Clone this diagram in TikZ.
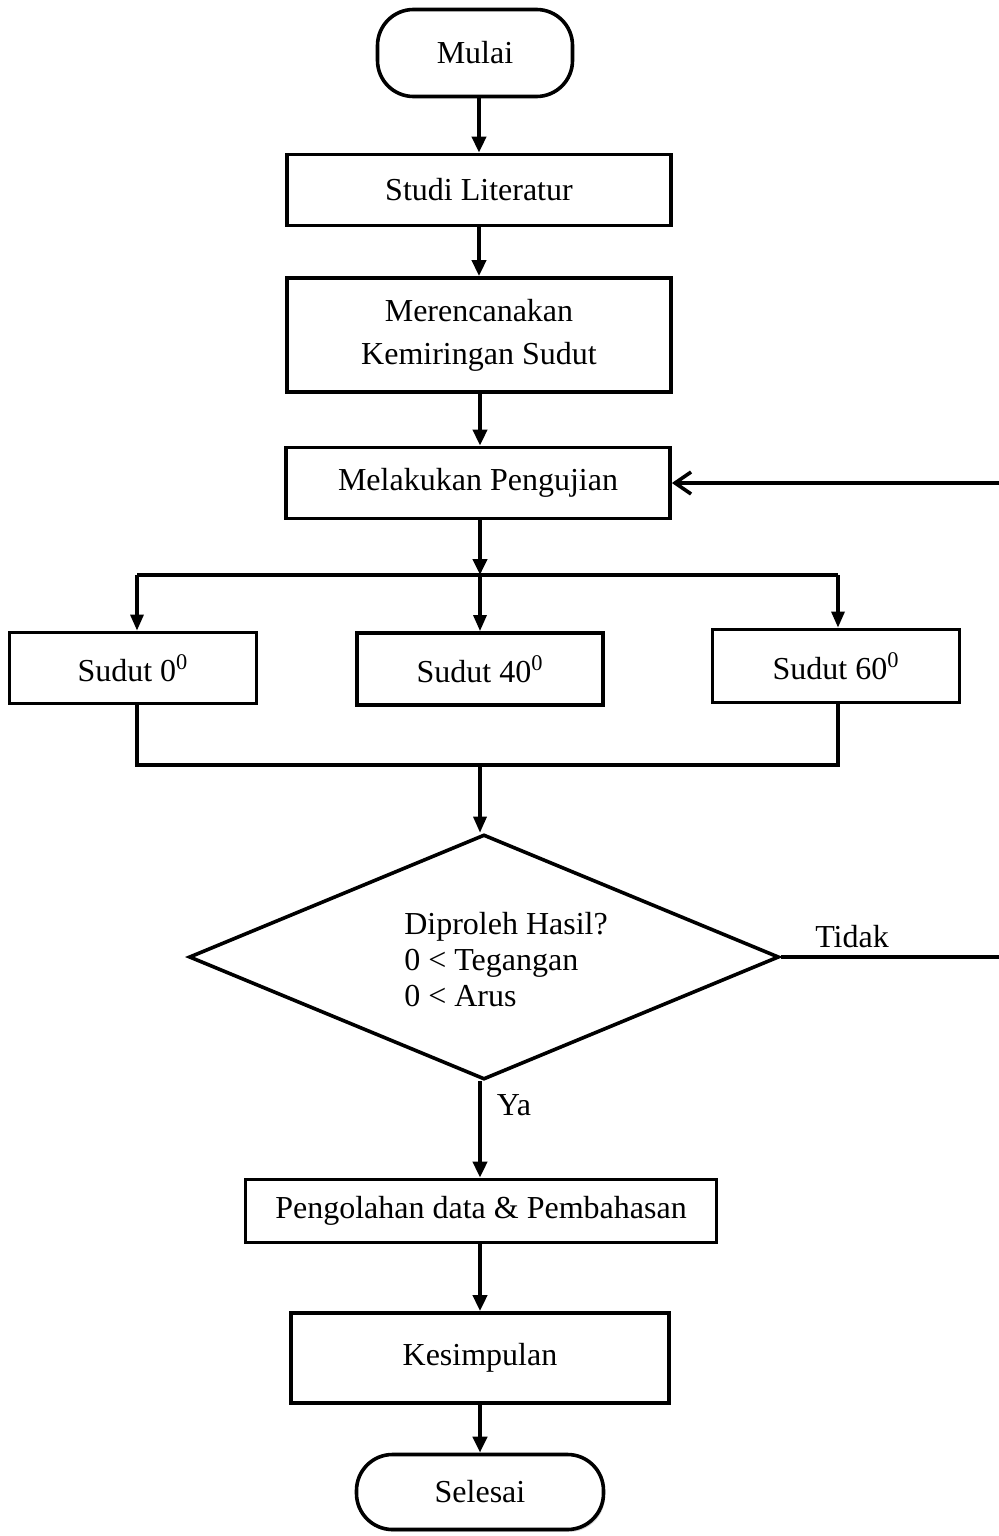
\documentclass[tikz,border=0pt]{standalone}
\usepackage{fontspec}
\setmainfont{Liberation Serif}
\usetikzlibrary{arrows.meta,shapes.geometric,shadows}
\begin{document}
\begin{tikzpicture}[x=0.5pt, y=-0.5pt, font=\fontsize{16}{19}\selectfont,
		kotak/.style={draw, line width=1.9pt, inner sep=0pt},
		ujung/.style={draw, line width=1.8pt, rounded corners=18pt, inner sep=0pt},
		panah/.style={line width=2pt, -{Triangle[length=8pt,width=7pt]}},
		cabang/.style={line width=1.6pt, -{Triangle[length=8pt,width=6.5pt]}},
		garis/.style={line width=1.6pt}]
		
		\useasboundingbox (0,0) rectangle (998,1536);
		
		\node[ujung, minimum width=97.5pt, minimum height=43.5pt] (mulai) at (475,53) {Mulai};
		\node[kotak, minimum width=192pt, minimum height=35.5pt] (studi) at (479,190) {Studi Literatur};
		\node[kotak, minimum width=192pt, minimum height=57pt, align=center, font=\fontsize{16}{21.5}\selectfont] (rencana) at (479,335) {Merencanakan\\Kemiringan Sudut};
		\node[kotak, minimum width=192pt, minimum height=35.5pt] (uji) at (478,483) {Melakukan Pengujian};
		
		\node[kotak, minimum width=123.5pt, minimum height=35.5pt] (s0) at (133,668) {Sudut 0\textsuperscript{0}};
		\node[kotak, minimum width=123pt, minimum height=36pt] (s40) at (480,669) {Sudut 40\textsuperscript{0}};
		\node[kotak, minimum width=123.5pt, minimum height=36.5pt] (s60) at (836,666) {Sudut 60\textsuperscript{0}};
		
		\coordinate (bagi) at (480,575);
		\coordinate (bagiL) at (137,575);
		\coordinate (bagiR) at (838,575);
		\coordinate (gabung) at (480,765);
		
		\node[draw, diamond, line width=1.8pt, aspect=2.4, inner sep=0pt, minimum width=295pt, minimum height=122.5pt] (cek) at (484,957) {};
		\node[align=left, font=\fontsize{16}{18}\selectfont] (isi) at (506,960) {Diproleh Hasil?\\0 < Tegangan\\0 < Arus};
		\node (tidak) at (852,937) {Tidak};
		\node (ya) at (514,1105) {Ya};
		
		\node[kotak, minimum width=235.5pt, minimum height=31.5pt] (olah) at (481,1211) {Pengolahan data \& Pembahasan};
		\node[kotak, minimum width=189pt, minimum height=45pt] (simpul) at (480,1358) {Kesimpulan};
		\node[ujung, minimum width=123.5pt, minimum height=37.5pt, fill=white, drop shadow={shadow xshift=0.8pt, shadow yshift=-1.2pt, fill=gray!70}] (selesai) at (480,1492) {Selesai};
		
		\draw[panah] (studi.north |- mulai.south) to (studi);
		\draw[panah] (studi) to (rencana);
		\draw[panah] (rencana.south -| bagi) to (bagi |- uji.north);
		\draw[panah] (uji.south -| bagi) to (bagi);
		\draw[garis] (bagiL) to (bagiR);
		\draw[cabang] (bagiL) to (bagiL |- s0.north);
		\draw[cabang] (bagi) to (s40);
		\draw[cabang] (bagiR) to (bagiR |- s60.north);
		\draw[garis] (bagiL |- s0.south) to (bagiL |- gabung) to (bagiR |- gabung) to (bagiR |- s60.south);
		\draw[cabang] (gabung) to (gabung |- cek.north);
		\draw[panah] (gabung |- cek.south) to (gabung |- olah.north);
		\draw[panah] (olah.south -| gabung) to (simpul);
		\draw[panah] (simpul) to (selesai);
		\draw[line width=1.8pt, -{Straight Barb[length=8pt,width=11pt]}] (cek.east) -- (1004,957) |- (uji.east);
		
	\end{tikzpicture}
\end{document}
